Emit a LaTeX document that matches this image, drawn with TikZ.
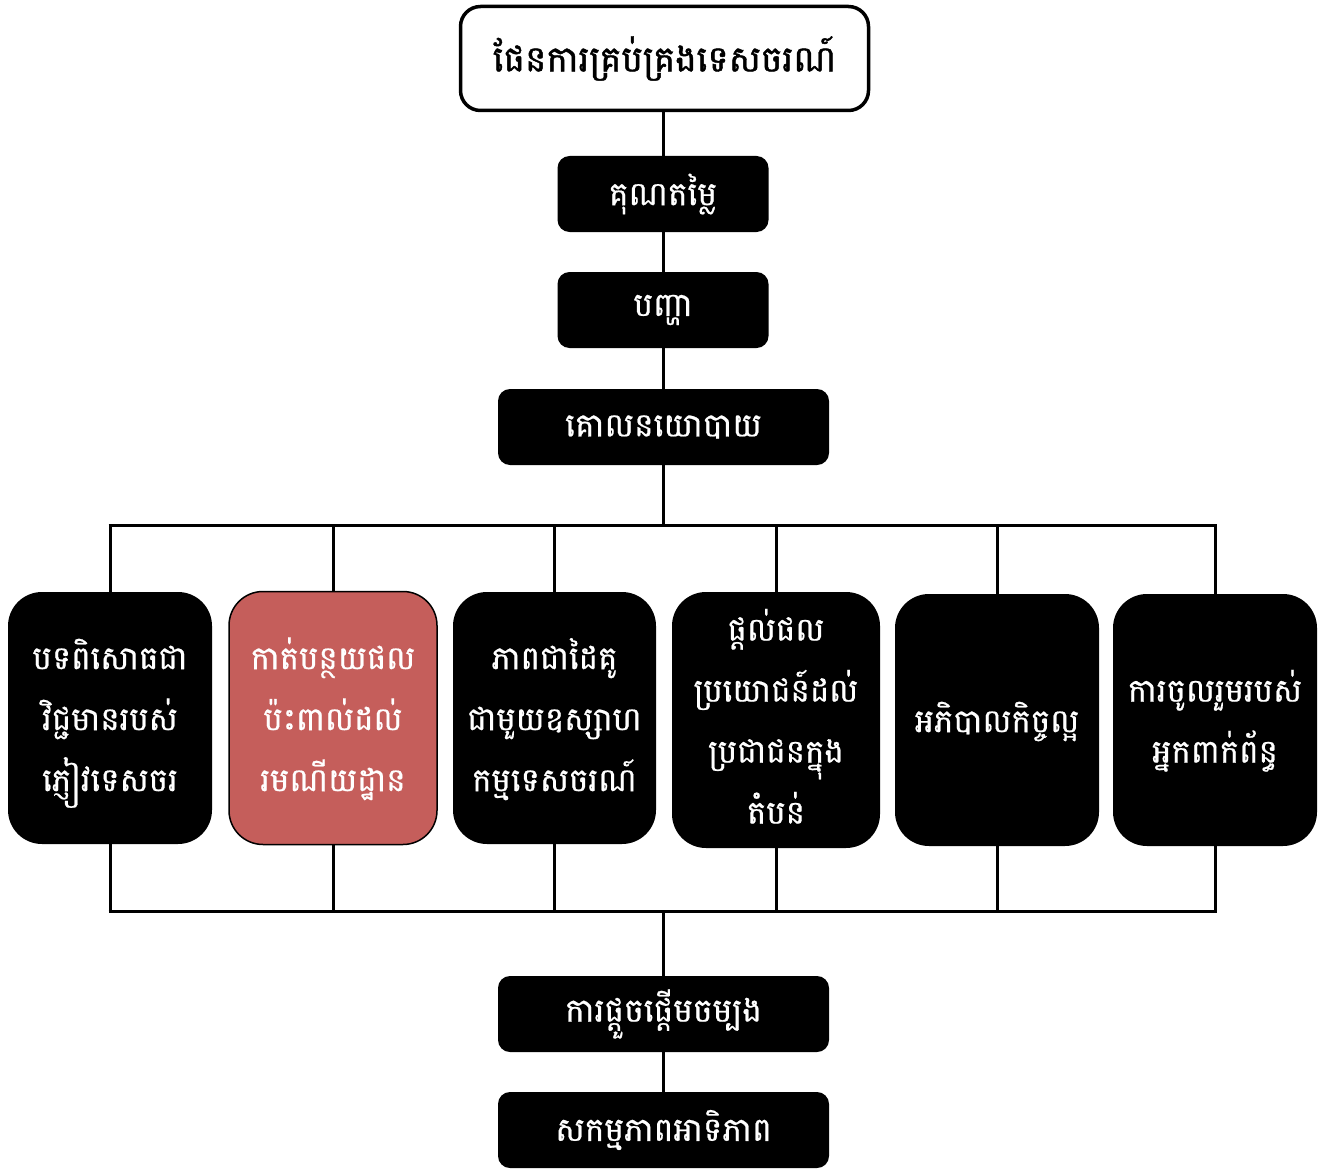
\documentclass[tikz,border=0pt]{standalone}
\usepackage{fontspec}
\newfontfamily\kh[Script=Khmer,FakeBold=0.6]{Battambang}
\newfontfamily\khhead[Script=Khmer,FakeBold=1.2]{Battambang}
\definecolor{brick}{HTML}{C55E5B}
% centred multi-line Khmer label, lowered a little to sit optically centred
\newcommand\kstack[1]{\raisebox{-6pt}{\begin{tabular}{@{}c@{}}#1\end{tabular}}}
\begin{document}
\begin{tikzpicture}[x=1pt,y=-1pt,
  link/.style={line width=3pt},
  titlebox/.style={draw=black,line width=3.5pt,fill=white,rounded corners=20pt,
    minimum width=408pt,minimum height=104pt,inner sep=0pt,
    font={\khhead\fontsize{36}{44}\selectfont}},
  barbox/.style={fill=black,text=white,rounded corners=12pt,inner sep=0pt,
    minimum height=76pt,font={\kh\fontsize{33}{40}\selectfont}},
  colbox/.style={fill=black,text=white,rounded corners=34pt,inner sep=0pt,
    minimum width=204pt,minimum height=252pt,
    font={\kh\fontsize{32.5}{61}\selectfont}},
  hotbox/.style={colbox,fill=brick,draw=black,line width=1.5pt}]
\useasboundingbox (0,0) rectangle (1324,1169);

% vertical chain at the top
\node[titlebox] (plan) at (664.5,58.5) {\raisebox{-3pt}{ផែនការគ្រប់គ្រងទេសចរណ៍}};
\node[barbox,minimum width=211pt] (value) at (663,194) {\raisebox{-3pt}{គុណតម្លៃ}};
\node[barbox,minimum width=211pt] (issue) at (663,310) {\raisebox{-3pt}{បញ្ហា}};
\node[barbox,minimum width=331pt] (policy) at (663.5,427) {\raisebox{-3pt}{គោលនយោបាយ}};

% six goal columns
\node[colbox] (g1) at (110,718) {\kstack{បទពិសោធជា\\វិជ្ជមានរបស់\\ភ្ញៀវទេសចរ}};
\node[hotbox,minimum width=208pt,minimum height=253pt] (g2) at (333,718) {\kstack{កាត់បន្ថយផល\\ប៉ះពាល់ដល់\\រមណីយដ្ឋាន}};
\node[colbox,minimum width=203pt] (g3) at (554.5,718) {\kstack{ភាពជាដៃគូ\\ជាមួយឧស្សាហ\\កម្មទេសចរណ៍}};
\node[colbox,minimum width=208pt,minimum height=256pt] (g4) at (776,720) {\kstack{ផ្តល់ផល\\ប្រយោជន៍ដល់\\ប្រជាជនក្នុង\\តំបន់}};
\node[colbox] (g5) at (997,720) {\kstack{អភិបាលកិច្ចល្អ}};
\node[colbox] (g6) at (1215,720) {\kstack{ការចូលរួមរបស់\\អ្នកពាក់ព័ន្ធ}};

% bottom chain
\node[barbox,minimum width=331pt] (init) at (663.5,1014) {\raisebox{-3pt}{ការផ្តួចផ្តើមចម្បង}};
\node[barbox,minimum width=331pt] (prio) at (663.5,1130) {\raisebox{-3pt}{សកម្មភាពអាទិភាព}};

% bus lines
\coordinate (busT) at (663,525);
\coordinate (busB) at (663,911);

\draw[link] (value.north |- plan.south) -- (value.north);
\draw[link] (value.south) -- (issue.north);
\draw[link] (issue.south) -- (value.south |- policy.north);
\draw[link] (value.south |- policy.south) -- (busT);
\draw[link] ([xshift=-1.5pt]busT -| g1.north) -- ([xshift=1.5pt]busT -| g6.north);
\draw[link] ([xshift=-1.5pt]busB -| g1.south) -- ([xshift=1.5pt]busB -| g6.south);
\foreach \g in {g1,g2,g3,g4,g5,g6}{
  \draw[link] (\g.north) -- (\g.north |- busT);
  \draw[link] (\g.south) -- (\g.south |- busB);
}
\draw[link] (busB) -- (busB |- init.north);
\draw[link] (busB |- init.south) -- (busB |- prio.north);
\end{tikzpicture}
\end{document}
